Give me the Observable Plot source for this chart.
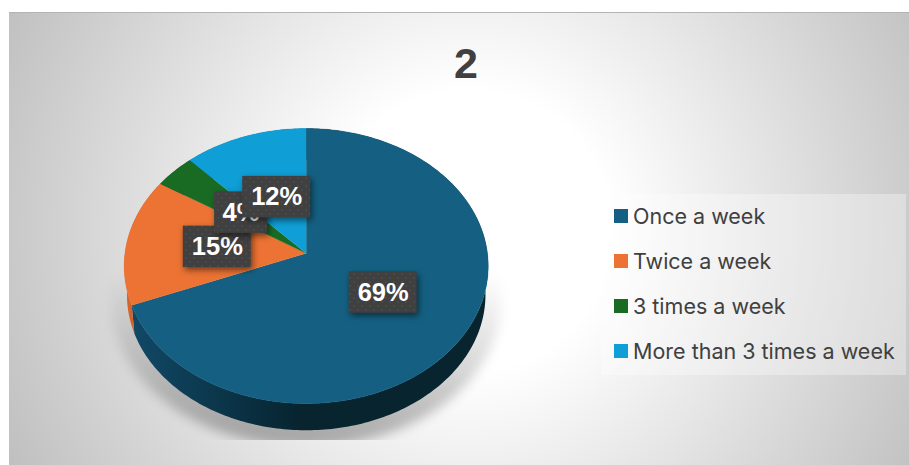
<!DOCTYPE html>
<html>
<head>
<meta charset="utf-8">
<script src="https://cdn.jsdelivr.net/npm/d3@7"></script>
<script src="https://cdn.jsdelivr.net/npm/@observablehq/plot@0.6"></script>
<style>
  html, body { margin: 0; padding: 0; background: #fff; }
  #chart { position: relative; width: 909px; height: 465px; overflow: hidden; font-family: "Liberation Sans", Arial, sans-serif; }
  #panel { position: absolute; left: 9px; top: 12px; right: 0; bottom: 0;
    border-top: 1px solid #b4b4b4; box-sizing: border-box;
    background: radial-gradient(ellipse 560px 560px at 461px 218px, #fff 25%, #b8b8b8 100%); }
  #chart svg { position: absolute; left: 0; top: 0; background: transparent; }
  #title { position: absolute; left: 366px; width: 200px; top: 38px; text-align: center;
    font-size: 43px; font-weight: 700; line-height: 50px; color: #404040; }
  #legend { position: absolute; left: 601px; top: 194px; width: 305px; height: 181px;
    background: rgba(255,255,255,.32); }
  #legend .row { position: absolute; left: 13px; height: 24px; display: flex; align-items: center;
    font: 400 21.5px Inter, sans-serif; color: #404040; white-space: nowrap; }
  #legend .swatch { width: 14px; height: 14px; margin-right: 5px; flex: none; }
</style>
</head>
<body>
<div id="chart">
  <div id="panel"></div>
  <div id="title"></div>
  <div id="legend"></div>
</div>
<script>
const chartTitle = "2";
const categories = ["Once a week", "Twice a week", "3 times a week", "More than 3 times a week"];
const shares = [69, 15, 4, 12];
const sliceColors = ["#156082", "#EC7333", "#196B24", "#0F9ED5"];
const sideFills = ["url(#sideBlue)", "url(#sideOrange)", "#0e4716", "#0a6f97"];
const labelRadius = [0.50, 0.495, 0.48, 0.46];
const labelWidths = [68, 68, 53, 68];

// Tilted-disc projection: angle runs clockwise from twelve o'clock.
const persp = 0.0931;
const pxX = 181.2, pxY = 136.3, originX = 305.7, originY = 252.7;
const project = (deg, r = 1) => {
  const a = deg * Math.PI / 180, w = 1 + persp * r * Math.cos(a);
  return {x: r * Math.sin(a) / w, y: r * Math.cos(a) / w};
};
const toLower = (p) => ({x: p.x * 0.985, y: p.y * 0.985 - 0.213});
const sweep = (a0, a1) => d3.range(0, Math.ceil(a1 - a0) + 1).map((i) => a0 + (a1 - a0) * i / Math.ceil(a1 - a0));

const total = d3.sum(shares);
const ends = d3.cumsum(shares).map((v) => v / total * 360);
const slices = categories.map((category, i) => ({category, value: shares[i], a0: i ? ends[i - 1] : 0, a1: ends[i]}));

const topFaces = slices.flatMap((s) => [
  {category: s.category, x: 0, y: 0},
  ...sweep(s.a0, s.a1).map((a) => ({category: s.category, ...project(a)}))
]);
const sideWall = (s) => {
  const rim = sweep(s.a0, s.a1).map((a) => project(a));
  return [...rim, ...rim.map(toLower).reverse()];
};
const outline = sweep(0, 360).map((a) => {
  const p = project(a);
  return {x: p.x * 1.07, y: p.y * 1.06 - 0.25};
});

const labels = slices.map((s, i) => {
  const c = project((s.a0 + s.a1) / 2, labelRadius[i]);
  return {...c, text: `${s.value}%`, halfW: labelWidths[i] / 2 / pxX, halfH: 20.75 / pxY};
});

// The cast shadow stops at the lower edge of the drawing area.
const clipToFloor = (index, scales, values, dims, context, next) => {
  const node = next(index, scales, values, dims, context);
  const holder = document.createElementNS("http://www.w3.org/2000/svg", "g");
  holder.setAttribute("clip-path", "url(#floorClip)");
  holder.appendChild(node);
  return holder;
};

const shadowBox = "drop-shadow(2px 3px 3px rgba(0,0,0,.5))";
const plot = Plot.plot({
  width: 909, height: 465,
  marginTop: 0, marginRight: 0, marginLeft: 0, marginBottom: 0,
  x: {domain: [-1, 1], range: [originX - pxX, originX + pxX], axis: null},
  y: {domain: [-1, 1], range: [originY + pxY, originY - pxY], axis: null},
  color: {domain: categories, range: sliceColors},
  marks: [
    Plot.line(outline, {x: "x", y: "y", fill: "url(#castFade)", stroke: "none", render: clipToFloor, imageFilter: "blur(6px)"}),
    ...slices.map((s, i) => Plot.line(sideWall(s), {x: "x", y: "y", fill: sideFills[i], stroke: "none"})),
    Plot.line(topFaces, {x: "x", y: "y", z: "category", fill: "category", stroke: "category", strokeWidth: 0.4, curve: "linear"}),
    ...labels.flatMap((d) => [
      Plot.rect([d], {x1: (v) => v.x - v.halfW, x2: (v) => v.x + v.halfW, y1: (v) => v.y - v.halfH, y2: (v) => v.y + v.halfH, fill: "url(#labelDots)", inset: 0, imageFilter: shadowBox}),
      Plot.text([d], {x: "x", y: "y", text: "text", fill: "#fff", fontSize: 25.5, fontWeight: 700, fontFamily: "Liberation Sans, Arial, sans-serif"})
    ])
  ]
});

// Gradients, clip and the dotted label pattern used by the marks above.
const defs = d3.create("svg:defs");
const gradient = (id, attrs, stops) => {
  const g = defs.append("linearGradient").attr("id", id);
  Object.entries(attrs).forEach(([k, v]) => g.attr(k, v));
  stops.forEach(([o, c, a = 1]) => g.append("stop").attr("offset", o).attr("stop-color", c).attr("stop-opacity", a));
};
gradient("sideBlue", {gradientUnits: "userSpaceOnUse", x1: 125, x2: 300, y1: 0, y2: 0}, [[0, "#114a69"], [1, "#07242f"]]);
gradient("sideOrange", {gradientUnits: "userSpaceOnUse", x1: 120, x2: 140, y1: 0, y2: 0}, [[0, "#dd682c"], [1, "#c95e27"]]);
gradient("castFade", {x1: 0, x2: 0, y1: 0, y2: 1}, [[0.4, "#000", 0], [0.7, "#000", 0.14], [1, "#000", 0.3]]);
defs.append("clipPath").attr("id", "floorClip").append("rect").attr("width", 909).attr("height", 440);
const dots = defs.append("pattern").attr("id", "labelDots").attr("patternUnits", "userSpaceOnUse").attr("width", 8).attr("height", 8);
dots.append("rect").attr("width", 8).attr("height", 8).attr("fill", "#404040");
dots.append("circle").attr("cx", 2).attr("cy", 2).attr("r", 0.8).attr("fill", "#535353");
dots.append("circle").attr("cx", 6).attr("cy", 6).attr("r", 0.8).attr("fill", "#535353");
plot.prepend(defs.node());

document.getElementById("chart").insertBefore(plot, document.getElementById("title"));
document.getElementById("title").textContent = chartTitle;

const legendTops = [10, 55, 99.5, 144.5];
const legend = d3.select("#legend");
categories.forEach((c, i) => {
  const row = legend.append("div").attr("class", "row").style("top", legendTops[i] + "px");
  row.append("div").attr("class", "swatch").style("background", sliceColors[i]);
  row.append("span").text(c);
});
</script>
</body>
</html>
